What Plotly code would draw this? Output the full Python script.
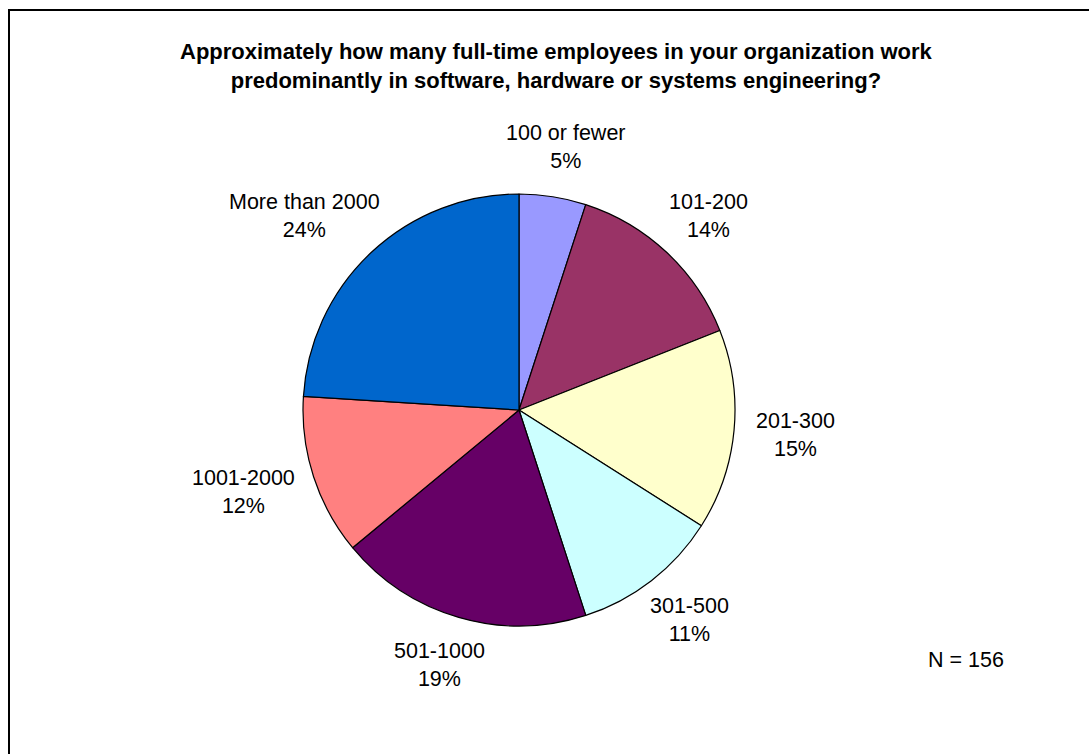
import math
import plotly.graph_objects as go

# Survey answer buckets and their shares of respondents (percent)
categories = ["100 or fewer", "101-200", "201-300", "301-500",
              "501-1000", "1001-2000", "More than 2000"]
percents = [5, 14, 15, 11, 19, 12, 24]
slice_colors = ["#9999FF", "#993366", "#FFFFCC", "#CCFFFF",
                "#660066", "#FF8080", "#0066CC"]
title_lines = [
    "Approximately how many full-time employees in your organization work",
    "predominantly in software, hardware or systems engineering?",
]
sample_note = "N = 156"

# Canvas geometry (pixels)
W, H = 1089, 754
CX, CY, R = 519, 410, 216
LABEL_FS = 21.5
TITLE_FS = 22
GAP = 22
FONT = "Liberation Sans, Arial, Helvetica, sans-serif"


def px(x):
    return x / W


def py(y):
    return 1 - y / H


# Approximate Arial advance widths (em) used to offset labels away from the pie
CHAR_W = {" ": 0.278, "-": 0.333, "%": 0.889, "M": 0.833, "N": 0.722,
          "r": 0.333, "f": 0.278, "t": 0.278, "w": 0.722}


def text_width(s, fs):
    return sum(CHAR_W.get(c, 0.556) for c in s) * fs


fig = go.Figure()
fig.add_trace(go.Pie(
    labels=categories,
    values=percents,
    sort=False,
    direction="clockwise",
    rotation=0,
    textinfo="none",
    hoverinfo="label+percent",
    marker=dict(colors=slice_colors, line=dict(color="black", width=1.2)),
    domain=dict(x=[px(CX - R), px(CX + R)], y=[py(CY + R), py(CY - R)]),
    showlegend=False,
))

annotations = []
total = sum(percents)
cum = 0
for cat, p in zip(categories, percents):
    theta = math.radians(360 * (cum + p / 2) / total)
    cum += p
    s, c = math.sin(theta), math.cos(theta)
    label = f"{cat}<br>{p}%"
    w = max(text_width(cat, LABEL_FS), text_width(f"{p}%", LABEL_FS))
    h = 2 * 1.3 * LABEL_FS
    ax = CX + (R + GAP) * s + (w / 2) * s
    ay = CY - (R + GAP) * c - (h / 2) * c
    annotations.append(dict(
        text=label, x=px(ax), y=py(ay), xref="paper", yref="paper",
        xanchor="center", yanchor="middle", showarrow=False,
        font=dict(family=FONT, size=LABEL_FS, color="black"),
    ))

annotations.append(dict(
    text="<b>" + "<br>".join(title_lines) + "</b>",
    x=px(556), y=py(66), xref="paper", yref="paper",
    xanchor="center", yanchor="middle", showarrow=False,
    font=dict(family=FONT, size=TITLE_FS, color="black"),
))
annotations.append(dict(
    text=sample_note, x=px(966), y=py(660), xref="paper", yref="paper",
    xanchor="center", yanchor="middle", showarrow=False,
    font=dict(family=FONT, size=LABEL_FS, color="black"),
))

fig.update_layout(
    width=W, height=H,
    margin=dict(l=0, r=0, t=0, b=0),
    paper_bgcolor="white",
    plot_bgcolor="white",
    annotations=annotations,
    shapes=[dict(
        type="rect", xref="paper", yref="paper",
        x0=px(9), y0=py(10), x1=1.1, y1=-0.1,
        line=dict(color="black", width=2), fillcolor="rgba(0,0,0,0)",
    )],
)

fig.write_html("out.html")
